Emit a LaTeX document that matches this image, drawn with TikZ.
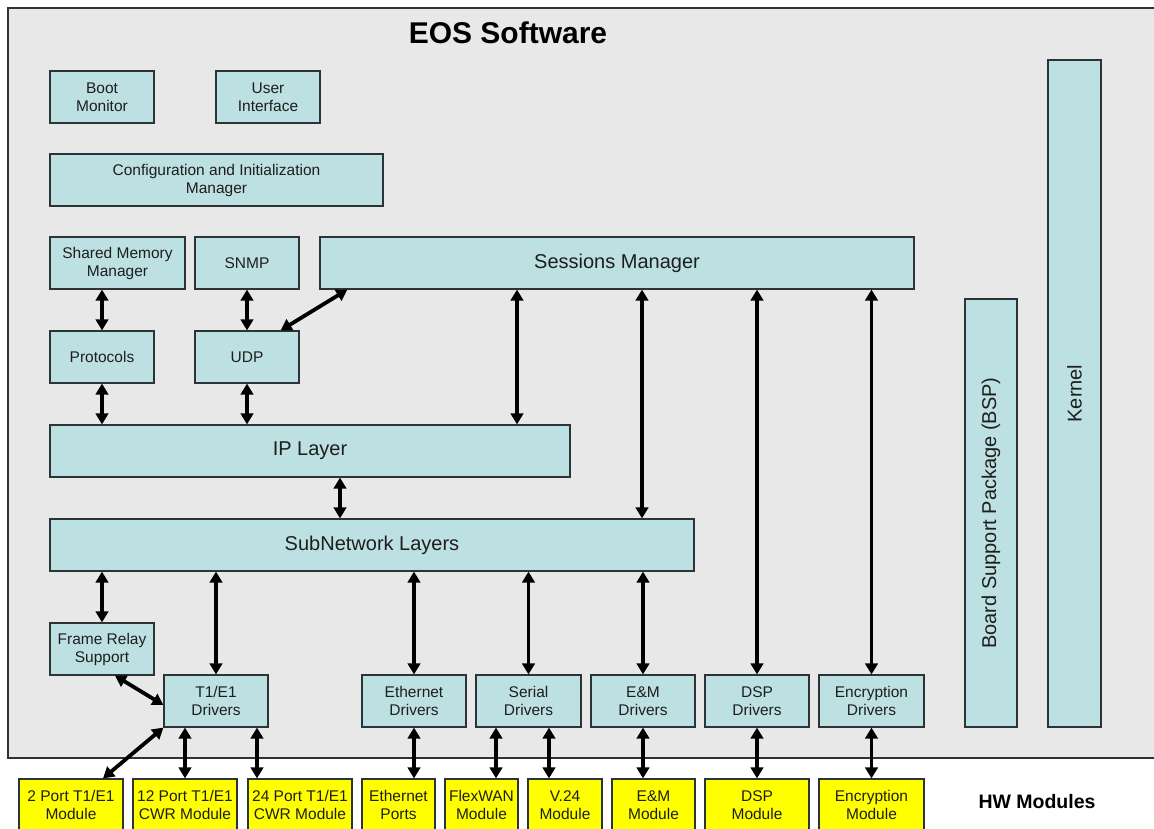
\documentclass[tikz,border=0pt]{standalone}
\usepackage{fontspec}
\setmainfont{Liberation Sans}
\usetikzlibrary{arrows.meta}
\definecolor{boxfill}{HTML}{BDE0E3}
\definecolor{bgframe}{HTML}{E8E8E8}
\definecolor{edge}{HTML}{2B3538}
\definecolor{ink}{HTML}{1E1E1E}
\definecolor{hw}{HTML}{FFFF00}
\begin{document}
\begin{tikzpicture}[x=1pt,y=-1pt,
 box/.style={draw=edge, line width=1.2pt, fill=boxfill, inner sep=0pt, align=center, text=ink, font=\fontsize{15.5}{18}\selectfont, minimum height=52pt},
 bigbox/.style={box, font=\fontsize{20}{24}\selectfont},
 hwbox/.style={box, fill=hw},
 arr/.style={line width=3.8pt, draw=black, {Triangle[length=11pt,width=12.5pt]}-{Triangle[length=11pt,width=12.5pt]}}]
\clip (0,0) rectangle (1154,829);
\fill[white] (0,0) rectangle (1154,829);
\draw[draw=edge, line width=1.5pt, fill=bgframe] (8,8) rectangle (1175,758);
\node[font=\bfseries\fontsize{30}{36}\selectfont, text=black] (title) at (508,33) {EOS Software};
\node[font=\bfseries\fontsize{19.5}{24}\selectfont, text=black] (hwlabel) at (1037,802) {HW Modules};
% software boxes
\node[box, minimum width=104pt] (boot) at (102,97) {Boot\\Monitor};
\node[box, minimum width=104pt] (ui) at (268,97) {User\\Interface};
\node[box, minimum width=333pt] (cfg) at (216.5,180) {Configuration and Initialization\\Manager};
\node[box, minimum width=135pt] (smm) at (117.5,263) {Shared Memory\\Manager};
\node[box, minimum width=104pt] (snmp) at (247,263) {SNMP};
\node[bigbox, minimum width=594pt] (sess) at (617,263) {Sessions Manager};
\node[box, minimum width=104pt] (prot) at (102,357) {Protocols};
\node[box, minimum width=104pt] (udp) at (247,357) {UDP};
\node[bigbox, minimum width=520pt] (ip) at (310,451) {IP Layer};
\node[bigbox, minimum width=644pt] (subnet) at (372,545) {SubNetwork Layers};
\node[box, minimum width=104pt] (fr) at (102,649) {Frame Relay\\Support};
\node[box, minimum width=104pt] (t1) at (216,701) {T1/E1\\Drivers};
\node[box, minimum width=104pt] (eth) at (414,701) {Ethernet\\Drivers};
\node[box, minimum width=105pt] (ser) at (528.5,701) {Serial\\Drivers};
\node[box, minimum width=104pt] (em) at (643,701) {E\&M\\Drivers};
\node[box, minimum width=104pt] (dsp) at (757,701) {DSP\\Drivers};
\node[box, minimum width=105pt] (enc) at (871.5,701) {Encryption\\Drivers};
\node[bigbox, rotate=90, minimum width=428pt, minimum height=52pt] (bsp) at (991,513) {Board Support Package (BSP)};
\node[bigbox, rotate=90, minimum width=667pt, minimum height=53pt] (kernel) at (1074.5,393.5) {Kernel};
% hardware modules
\node[hwbox, minimum width=104pt] (m2) at (71,805) {2 Port T1/E1\\Module};
\node[hwbox, minimum width=104pt] (m12) at (185,805) {12 Port T1/E1\\CWR Module};
\node[hwbox, minimum width=104pt] (m24) at (300,805) {24 Port T1/E1\\CWR Module};
\node[hwbox, minimum width=73pt] (ethp) at (398.5,805) {Ethernet\\Ports};
\node[hwbox, minimum width=73pt] (flex) at (481.5,805) {FlexWAN\\Module};
\node[hwbox, minimum width=74pt] (v24) at (565,805) {V.24\\Module};
\node[hwbox, minimum width=83pt] (emm) at (653.5,805) {E\&M\\Module};
\node[hwbox, minimum width=104pt] (dspm) at (757,805) {DSP\\Module};
\node[hwbox, minimum width=105pt] (encm) at (871.5,805) {Encryption\\Module};
% connectors
\draw[arr] (prot.north |- smm.south) -- (prot.north);
\draw[arr] (snmp.south) -- (udp.north);
\draw[arr] ([xshift=-19pt]udp.north east) -- ([xshift=28pt]sess.south west);
\draw[arr] (prot.south) -- (prot.south |- ip.north);
\draw[arr] (udp.south) -- (udp.south |- ip.north);
\draw[arr] ([xshift=-100pt]sess.south) -- ([xshift=207pt]ip.north);
\draw[arr] ([xshift=25pt]sess.south) -- ([xshift=270pt]subnet.north);
\draw[arr] (dsp.north |- sess.south) -- (dsp.north);
\draw[arr] (enc.north |- sess.south) -- (enc.north);
\draw[arr] ([xshift=30pt]ip.south) -- ([xshift=-32pt]subnet.north);
\draw[arr] (fr.north |- subnet.south) -- (fr.north);
\draw[arr] (t1.north |- subnet.south) -- (t1.north);
\draw[arr] (eth.north |- subnet.south) -- (eth.north);
\draw[arr] (ser.north |- subnet.south) -- (ser.north);
\draw[arr] (em.north |- subnet.south) -- (em.north);
\draw[arr] ([xshift=13pt]fr.south) -- ([yshift=-4pt]t1.west);
\draw[arr] (t1.south west) -- ([xshift=32pt]m2.north);
\draw[arr] (m12.north |- t1.south) -- (m12.north);
\draw[arr] ([xshift=41pt]t1.south) -- ([xshift=-43pt]m24.north);
\draw[arr] (eth.south) -- ([xshift=15.5pt]ethp.north);
\draw[arr] ([xshift=-32.5pt]ser.south) -- ([xshift=14.5pt]flex.north);
\draw[arr] ([xshift=20.5pt]ser.south) -- ([xshift=-16pt]v24.north);
\draw[arr] (em.south) -- ([xshift=-10.5pt]emm.north);
\draw[arr] (dsp.south) -- (dspm.north);
\draw[arr] (enc.south) -- (encm.north);
\end{tikzpicture}
\end{document}
